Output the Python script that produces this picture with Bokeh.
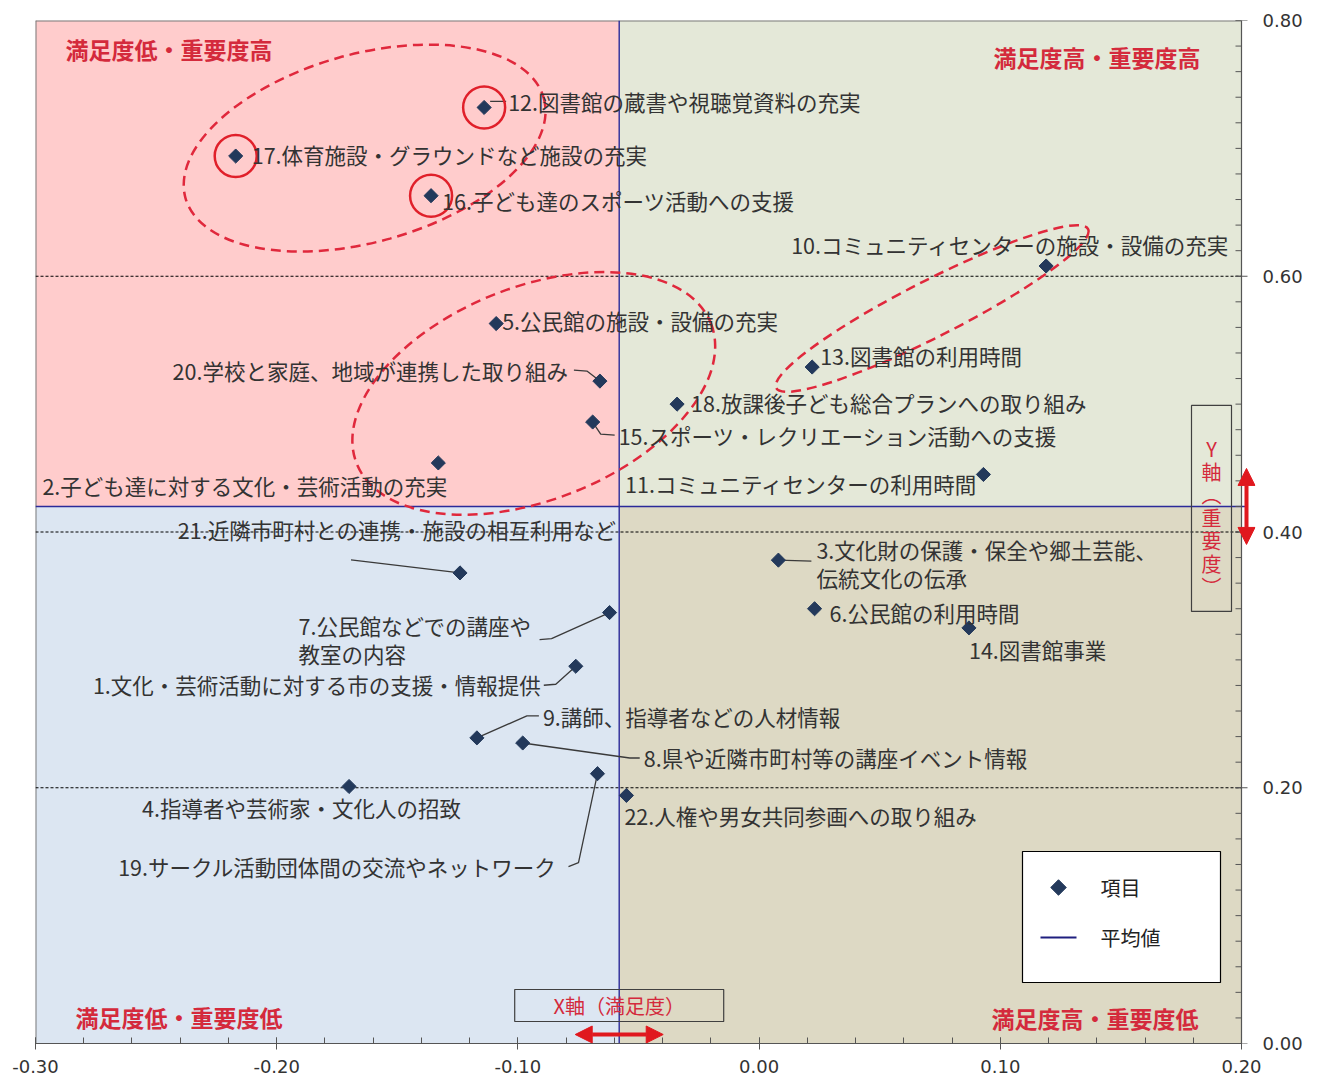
import numpy as np
from bokeh.plotting import figure
from bokeh.models import (ColumnDataSource, FixedTicker, NumeralTickFormatter, Arrow, NormalHead,
                          Range1d)
from bokeh.core.properties import value
from bokeh.embed import file_html
from bokeh.resources import INLINE

# ---------------- data ----------------
item_ids = list(range(1, 23))
item_names = [
    "1.文化・芸術活動に対する市の支援・情報提供",
    "2.子ども達に対する文化・芸術活動の充実",
    "3.文化財の保護・保全や郷土芸能、\n伝統文化の伝承",
    "4.指導者や芸術家・文化人の招致",
    "5.公民館の施設・設備の充実",
    "6.公民館の利用時間",
    "7.公民館などでの講座や\n教室の内容",
    "8.県や近隣市町村等の講座イベント情報",
    "9.講師、指導者などの人材情報",
    "10.コミュニティセンターの施設・設備の充実",
    "11.コミュニティセンターの利用時間",
    "12.図書館の蔵書や視聴覚資料の充実",
    "13.図書館の利用時間",
    "14.図書館事業",
    "15.スポーツ・レクリエーション活動への支援",
    "16.子ども達のスポーツ活動への支援",
    "17.体育施設・グラウンドなど施設の充実",
    "18.放課後子ども総合プランへの取り組み",
    "19.サークル活動団体間の交流やネットワーク",
    "20.学校と家庭、地域が連携した取り組み",
    "21.近隣市町村との連携・施設の相互利用など",
    "22.人権や男女共同参画への取り組み",
]
satisfaction = [-0.076, -0.133, 0.008, -0.170, -0.109, 0.023, -0.062, -0.098, -0.117, 0.119,
                0.093, -0.114, 0.022, 0.087, -0.069, -0.136, -0.217, -0.034, -0.067, -0.066,
                -0.124, -0.055]
importance = [0.295, 0.454, 0.378, 0.201, 0.563, 0.340, 0.337, 0.235, 0.239, 0.608,
              0.445, 0.732, 0.529, 0.325, 0.486, 0.663, 0.694, 0.500, 0.211, 0.518,
              0.368, 0.194]
mean_satisfaction = -0.058
mean_importance = 0.42

x_ticks = [-0.30, -0.20, -0.10, 0.00, 0.10, 0.20]
y_ticks = [0.00, 0.20, 0.40, 0.60, 0.80]
grid_values = [0.20, 0.40, 0.60]

quadrant_titles = ["満足度低・重要度高", "満足度高・重要度高", "満足度低・重要度低", "満足度高・重要度低"]
legend_labels = ["項目", "平均値"]
x_caption = "X軸（満足度）"
y_caption = "Y\n軸\n︵\n重\n要\n度\n︶"
highlighted = [12, 17, 16]
groups = [[12, 16, 17], [2, 5, 15, 20], [10, 13]]

# ---------------- layout / style ----------------
X0, X1, Y0, Y1 = -0.30, 0.20, 0.0, 0.80
PW, PH = 1206, 1023          # plot-area size in px
EXTRA_R = 14                 # white strip right of the y axis line (room for the arrow)
XPX = PW / (X1 - X0)
YPX = PH / (Y1 - Y0)
JP = "Noto Sans CJK JP"
RED = "#D42A3C"
ARROW_RED = "#E0181E"
NAVY = "#23395B"
MEANC = "#2B2B9A"
FRAMEC = "#7a7a7a"
AXC = "#555555"

x_minor = list(np.round(np.arange(-0.30, 0.2001, 0.02), 2))
y_minor = list(np.round(np.arange(0.0, 0.8001, 0.02), 2))


def cx(px):  # px offset from right plot edge -> data x
    return X1 + px / XPX


def cy(px):  # px offset (down positive) from bottom plot edge -> data y
    return Y0 - px / YPX


# label layout: align, dx px, dy px (screen, down positive)
label_layout = {
    1: ("right", -35, 18), 2: ("right", 9, 23), 3: ("left", 38, 3), 4: ("left", -207, 21),
    5: ("left", 6, -3), 6: ("left", 15, 4), 7: ("left", -311, 27), 8: ("left", 121, 15),
    9: ("left", 66, -21), 10: ("left", -255, -22), 11: ("right", -6, 9), 12: ("left", 24, -6),
    13: ("left", 8, -12), 14: ("left", 0, 22), 15: ("left", 26, 13), 16: ("left", 11, 5),
    17: ("left", 16, -2), 18: ("left", 14, -2), 19: ("right", -41, 93), 20: ("right", -32, -11),
    21: ("center", -63, -43), 22: ("left", -2, 20),
}
leaders = {
    12: [(6, -6), (22, -6)],
    20: [(-26, -11), (-13, -10), (0, 0)],
    15: [(0, 0), (8, 12), (22, 13)],
    21: [(-109, -13), (0, 0)],
    7: [(-70, 27), (-58, 26), (0, 0)],
    1: [(-32, 19), (-20, 18), (0, 0)],
    9: [(0, 0), (50, -22), (62, -22)],
    8: [(0, 0), (107, 15), (117, 15)],
    19: [(0, 0), (-19, 89), (-29, 93)],
    3: [(0, 0), (33, 1)],
}
# group ellipses: (width px, height px, angle deg, centre offset px from group mean)
ellipse_style = [(372, 188, 15.6, (-19, -5)), (381, 213, 21.6, (2, -4)), (350, 56, 27, (3, -8))]

p = figure(frame_width=PW + EXTRA_R, frame_height=PH,
           x_range=Range1d(X0, X1 + EXTRA_R / XPX), y_range=Range1d(Y0, Y1),
           output_backend="svg", toolbar_location=None, y_axis_location="right",
           min_border_left=35, min_border_top=20, min_border_right=40, min_border_bottom=35,
           background_fill_color="white", border_fill_color="white",
           outline_line_color=None)

# quadrants
p.quad(left=[X0, mean_satisfaction, X0, mean_satisfaction],
       right=[mean_satisfaction, X1, mean_satisfaction, X1],
       bottom=[mean_importance, mean_importance, Y0, Y0],
       top=[Y1, Y1, mean_importance, mean_importance],
       fill_color=["#FFCCCC", "#E4E8D8", "#DCE6F2", "#DDD9C4"], line_color=None)

# plot-area border (top and left)
p.segment(x0=[X0, X0], y0=[Y1, Y0], x1=[X1, X0], y1=[Y1, Y1], line_color=FRAMEC, line_width=2)

# dashed gridlines
p.xgrid.visible = False
p.ygrid.visible = False
p.segment(x0=[X0] * len(grid_values), y0=grid_values, x1=[X1] * len(grid_values), y1=grid_values,
          line_color="black", line_dash="3 2", line_width=1)

# mean lines
p.segment(x0=[mean_satisfaction, X0], y0=[Y0, mean_importance],
          x1=[mean_satisfaction, X1 + 4 / XPX], y1=[Y1, mean_importance],
          line_color=MEANC, line_width=1.4)

# group ellipses
for g, (w, h, ang, (ox, oy)) in zip(groups, ellipse_style):
    gx = np.mean([satisfaction[i - 1] for i in g]) + ox / XPX
    gy = np.mean([importance[i - 1] for i in g]) - oy / YPX
    p.ellipse(x=[gx], y=[gy], width=[w], height=[h], angle=[np.deg2rad(ang)],
              width_units="screen", height_units="screen",
              fill_color=None, line_color="#E0283C", line_width=2.5, line_dash="10 6")

# leader lines
xs, ys = [], []
for k, pts in leaders.items():
    px, py = satisfaction[k - 1], importance[k - 1]
    xs.append([px + dx / XPX for dx, dy in pts])
    ys.append([py - dy / YPX for dx, dy in pts])
p.multi_line(xs=xs, ys=ys, line_color="#3a3a3a", line_width=1.3)

# highlight circles
p.scatter(x=[satisfaction[i - 1] for i in highlighted], y=[importance[i - 1] for i in highlighted],
          marker="circle", size=42, fill_color=None, line_color="#E0202A", line_width=2.5)

# points
p.scatter(x=satisfaction, y=importance, marker="square", angle=np.pi / 4, size=10,
          fill_color=NAVY, line_color=NAVY)

# labels
for al in ["left", "right", "center"]:
    ks = [k for k in item_ids if label_layout[k][0] == al]
    src = ColumnDataSource(dict(
        x=[satisfaction[k - 1] for k in ks], y=[importance[k - 1] for k in ks],
        t=[item_names[k - 1] for k in ks],
        dx=[label_layout[k][1] for k in ks], dy=[label_layout[k][2] for k in ks]))
    p.text(x="x", y="y", text="t", x_offset="dx", y_offset="dy", source=src,
           text_align=al, text_baseline="middle", text_font=value(JP),
           text_font_size="21.5px", text_color="#333333", text_line_height=0.9)

# quadrant titles
p.text(x=[X0, X0], y=[Y1, Y0], text=[quadrant_titles[0], quadrant_titles[2]],
       x_offset=[30, 40], y_offset=[28, -27], text_align="left", text_baseline="middle",
       text_font=value(JP), text_font_size="23px", text_font_style="bold", text_color=RED)
p.text(x=[X1, X1], y=[Y1, Y0], text=[quadrant_titles[1], quadrant_titles[3]],
       x_offset=[-41, -43], y_offset=[36, -26], text_align="right", text_baseline="middle",
       text_font=value(JP), text_font_size="23px", text_font_style="bold", text_color=RED)

# axis caption boxes
p.rect(x=[mean_satisfaction], y=[cy(-38)], width=[209], height=[32],
       width_units="screen", height_units="screen", fill_color=None, line_color="#404040",
       line_width=1.2)
p.text(x=[mean_satisfaction], y=[cy(-38)], text=[x_caption], text_align="center",
       text_baseline="middle", text_font=value(JP), text_font_size="20px", text_color=RED)
p.rect(x=[cx(-30)], y=[mean_importance - 2 / YPX], width=[40], height=[206],
       width_units="screen", height_units="screen", fill_color=None, line_color="#404040",
       line_width=1.2)
p.text(x=[cx(-30)], y=[mean_importance - 2 / YPX], y_offset=[9],
       text=[y_caption], text_align="center", text_baseline="middle",
       text_font=value(JP), text_font_size="20px", text_color=RED, text_line_height=0.79)

# legend box (drawn inside the plot area)
p.rect(x=[cx(-120)], y=[cy(-126.5)], width=[198], height=[131],
       width_units="screen", height_units="screen", fill_color="white", line_color="black",
       line_width=1.2)
p.scatter(x=[cx(-183)], y=[cy(-156)], marker="square", angle=np.pi / 4, size=11,
          fill_color=NAVY, line_color=NAVY)
p.segment(x0=[cx(-201)], y0=[cy(-106)], x1=[cx(-165)], y1=[cy(-106)],
          line_color="#1F1F7F", line_width=2)
p.text(x=[cx(-141), cx(-141)], y=[cy(-156), cy(-106)], text=legend_labels,
       text_align="left", text_baseline="middle", text_font=value(JP),
       text_font_size="20px", text_color="#222222")

# right-hand axis line and tick marks at x = 0.20 (labels come from the Bokeh axis)
p.segment(x0=[X1], y0=[Y0], x1=[X1], y1=[Y1], line_color=AXC, line_width=1.2)
p.segment(x0=[cx(-6)] * len(y_minor), y0=y_minor, x1=[X1] * len(y_minor), y1=y_minor,
          line_color=AXC, line_width=1)
p.segment(x0=[cx(-6)] * len(y_ticks), y0=y_ticks, x1=[cx(6)] * len(y_ticks), y1=y_ticks,
          line_color=AXC, line_width=1.2)


# double arrows
def head():
    return NormalHead(size=17, fill_color=ARROW_RED, line_color=ARROW_RED)


p.add_layout(Arrow(x_start=mean_satisfaction - 44 / XPX, x_end=mean_satisfaction + 44 / XPX,
                   y_start=cy(-9), y_end=cy(-9), line_color=ARROW_RED, line_width=4,
                   start=head(), end=head()))
p.add_layout(Arrow(x_start=cx(5), x_end=cx(5),
                   y_start=mean_importance - 38 / YPX, y_end=mean_importance + 38 / YPX,
                   line_color=ARROW_RED, line_width=4, start=head(), end=head()))

# axes
ax = p.xaxis[0]
ax.ticker = FixedTicker(ticks=x_ticks, minor_ticks=x_minor)
ax.formatter = NumeralTickFormatter(format="0.00")
ax.bounds = (X0, X1)
ax.axis_line_color = AXC
ax.major_tick_line_color = AXC
ax.minor_tick_line_color = AXC
ax.major_tick_in = 6
ax.major_tick_out = 6
ax.minor_tick_in = 6
ax.minor_tick_out = 0
ax.major_label_standoff = 10

ay = p.yaxis[0]
ay.ticker = FixedTicker(ticks=y_ticks, minor_ticks=y_minor)
ay.formatter = NumeralTickFormatter(format="0.00")
ay.axis_line_color = None
ay.major_tick_line_color = None
ay.minor_tick_line_color = None
ay.major_tick_in = 0
ay.major_tick_out = 0
ay.minor_tick_in = 0
ay.minor_tick_out = 0
ay.major_label_standoff = 7

for a in (ax, ay):
    a.major_label_text_font = "DejaVu Sans"
    a.major_label_text_font_size = "18px"
    a.major_label_text_color = "#333333"

open("out.html", "w").write(file_html(p, INLINE))
